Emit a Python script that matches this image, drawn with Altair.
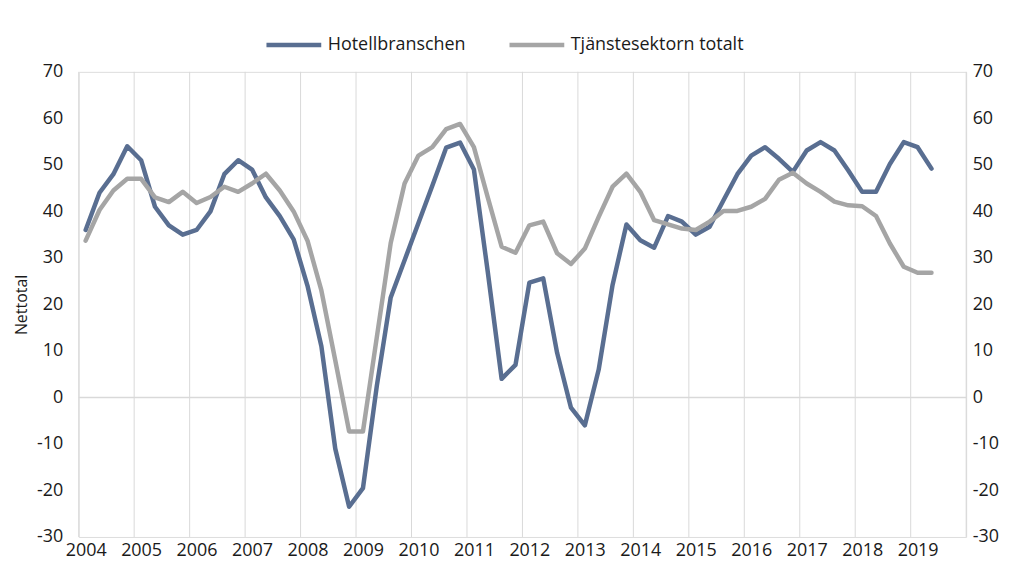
import altair as alt
import pandas as pd

years = list(range(2004, 2020))
series_names = ["Hotellbranschen", "Tjänstesektorn totalt"]

# Quarterly values, 2004 Q1 .. 2019 Q2
hotell = [36, 44, 48, 54, 51, 41, 37, 35, 36, 40, 48, 51, 49, 43, 39, 34,
          24, 11, -11, -23.5, -19.5, 2.5, 21.5, 29.5, 37.5, 45.5, 53.7, 54.8, 49, 27, 4, 7,
          24.7, 25.6, 9.6, -2.2, -6, 6, 24.2, 37.2, 33.8, 32.2, 39, 37.8, 35, 36.7, 42.4, 48,
          52, 53.8, 51.3, 48.5, 53.1, 54.9, 53.1, 48.8, 44.2, 44.2, 50.2, 54.9, 53.8, 49.2]
tjanst = [33.7, 40.3, 44.5, 47, 47, 43, 42, 44.2, 41.8, 43.1, 45.3, 44.2, 46, 48.1, 44.5, 40,
          33.7, 23, 8, -7.3, -7.3, 13, 33.2, 46, 52, 53.8, 57.7, 58.8, 53.8, 43, 32.4, 31.1,
          37, 37.8, 31, 28.7, 32, 38.8, 45.3, 48.1, 44.2, 38.1, 37.2, 36.3, 36, 37.8, 40.1, 40.1,
          41, 42.7, 46.8, 48.3, 46, 44.2, 42.1, 41.3, 41.1, 39, 33.1, 28.1, 26.8, 26.8]
y_ticks = list(range(-30, 80, 10))

rows = []
for name, vals in zip(series_names, [hotell, tjanst]):
    for i, v in enumerate(vals):
        rows.append({"series": name, "pos": i + 0.5, "value": v})
df = pd.DataFrame(rows)

grid_df = pd.DataFrame({"g": [4 * k for k in range(len(years) + 1)]})
zero_df = pd.DataFrame({"z": [0]})

FONT = "Open Sans"
TXT = "#1a1a1a"
xscale = alt.Scale(domain=[0, 4 * len(years)], nice=False, zero=False)
yscale = alt.Scale(domain=[-30, 70], nice=False)

xaxis = alt.Axis(
    values=[4 * k + 0.5 for k in range(len(years))],
    labelExpr="'' + (2004 + floor(datum.value / 4))",
    ticks=False, domain=False, grid=False, title=None,
    labelFontSize=18, labelFont=FONT, labelColor=TXT, labelPadding=5,
)

grid = alt.Chart(grid_df).mark_rule(color="#d9d9d9", strokeWidth=1).encode(
    x=alt.X("g:Q", scale=xscale, axis=xaxis)
)
zero = alt.Chart(zero_df).mark_rule(color="#d9d9d9", strokeWidth=1.5).encode(
    y=alt.Y("z:Q", scale=yscale, axis=None)
)

lines = alt.Chart(df).mark_line(strokeWidth=4.5, strokeJoin="round", strokeCap="round").encode(
    x=alt.X("pos:Q", scale=xscale, axis=xaxis),
    y=alt.Y("value:Q", scale=yscale, axis=alt.Axis(
        orient="left", values=y_ticks, ticks=False, domain=False, grid=False,
        labelExpr="'' + datum.value",
        title="Nettotal", titleFont=FONT, titleFontSize=16, titleFontWeight="normal",
        titleColor=TXT, titlePadding=7,
        labelFontSize=18, labelFont=FONT, labelColor=TXT, labelPadding=16)),
    color=alt.Color("series:N", sort=series_names,
                    scale=alt.Scale(domain=series_names, range=["#596e91", "#a5a5a5"]),
                    legend=alt.Legend(
                        title=None, orient="none", direction="horizontal",
                        legendX=186, legendY=-57, symbolType="stroke",
                        symbolSize=3025, symbolStrokeWidth=4.5,
                        labelFontSize=18, labelFont=FONT, labelColor=TXT, labelLimit=400,
                        columnPadding=34, labelOffset=4, padding=0)),
    order=alt.Order("pos:Q"),
)

right = alt.Chart(df).mark_line(opacity=0).encode(
    x=alt.X("pos:Q", scale=xscale, axis=xaxis),
    y=alt.Y("value:Q", scale=yscale, axis=alt.Axis(
        orient="right", values=y_ticks, ticks=False, domain=False, grid=False, title=None,
        labelExpr="'' + datum.value",
        labelFontSize=18, labelFont=FONT, labelColor=TXT, labelPadding=6)),
    detail="series:N",
)

chart = alt.layer(grid, zero, lines, right).resolve_scale(y="independent").properties(
    width=891, height=467,
    autosize=alt.AutoSizeParams(type="none"),
    padding={"left": 71, "top": 63, "right": 40, "bottom": 22},
).configure_view(stroke=None).configure(font=FONT)

chart.save("out.html", embed_options={"renderer": "svg", "actions": False})
